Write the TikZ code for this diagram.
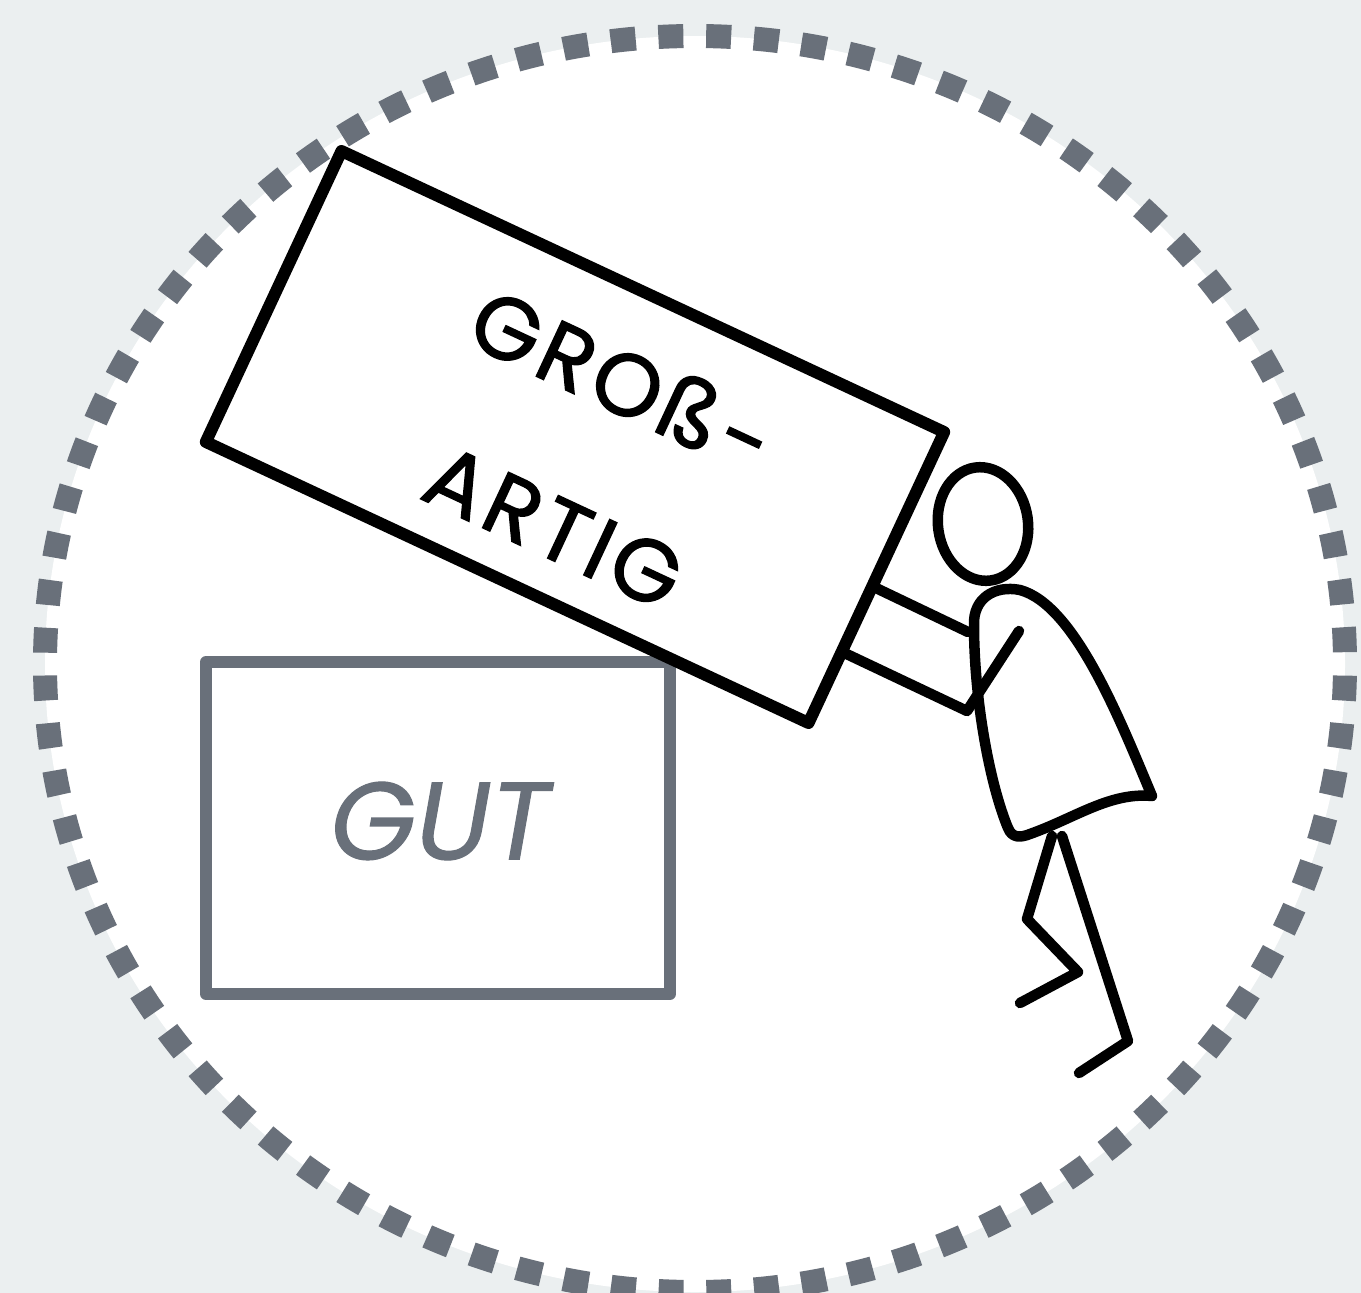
\documentclass[tikz,border=0pt]{standalone}
\usepackage{fontspec}
\setmainfont{Poppins}
\usetikzlibrary{calc}
\definecolor{bgpaper}{RGB}{235,239,240}
\definecolor{slate}{RGB}{105,112,122}
\tikzset{
  ring/.style={draw=slate, line width=24pt, dash pattern=on 25pt off 22.8pt, dash phase=36pt},
  goodbox/.style={draw=slate, line width=12pt, line join=round},
  greatbox/.style={draw=black, line width=12pt, line join=round, inner sep=0pt, outer sep=0pt,
                   minimum width=665pt, minimum height=321pt, rotate=-25},
  stroke/.style={draw=black, line width=10.5pt, line cap=round, line join=round},
  greattext/.style={text=black, inner sep=0pt, rotate=-25, align=center,
                    font=\fontsize{88}{160}\selectfont\addfontfeatures{FakeBold=1.5, LetterSpace=6}},
  goodtext/.style={text=slate, inner sep=0pt,
                   font=\fontsize{110}{120}\selectfont\itshape\addfontfeatures{FakeBold=1}}
}
\begin{document}
\begin{tikzpicture}[x=1pt, y=-1pt]
  % paper and framing ring
  \fill[bgpaper] (0,0) rectangle (1361,1293);
  \useasboundingbox (0,0) rectangle (1361,1293);
  \coordinate (hub) at (695,664);
  \fill[white] (hub) ellipse [x radius=650pt, y radius=628pt];
  \draw[ring] (hub) ellipse [x radius=650pt, y radius=628pt];

  % the plain box
  \node[goodbox, inner sep=0pt, outer sep=0pt, minimum width=464pt, minimum height=332pt] (good) at (438,828) {};
  \node[goodtext] (goodlabel) at (440,821) {GUT};

  % the tilted big box
  \node[greatbox] (great) at (575,437) {};
  \node[greattext] (greatlabel) at (589,452) {GROß-\\ARTIG};

  % stick figure pushing the big box
  \draw[stroke, rotate around={8:(983,524)}] (983,524) ellipse [x radius=45pt, y radius=57pt];
  \draw[stroke] (1020,590)
     .. controls (995,585) and (973,598) .. (974,625)
     .. controls (974,700) and (990,785) .. (1008,828)
     .. controls (1012,838) and (1020,838) .. (1030,834)
     .. controls (1075,818) and (1110,792) .. (1152,796)
     .. controls (1120,720) and (1075,605) .. (1020,590) -- cycle;
  \coordinate (shoulder) at (968,632);
  \coordinate (elbow) at (967,711);
  \coordinate (hand) at (1019,631);
  \draw[stroke] ($(great.north east)!0.53!(great.south east)$) -- (shoulder);
  \draw[stroke] ($(great.north east)!0.755!(great.south east)$) -- (elbow) -- (hand);
  \coordinate (hipL) at (1052,836);
  \coordinate (kneeL) at (1027,919);
  \coordinate (heelL) at (1078,972);
  \coordinate (toeL) at (1020,1003);
  \coordinate (hipR) at (1062,836);
  \coordinate (heelR) at (1128,1041);
  \coordinate (toeR) at (1079,1073);
  \draw[stroke] (hipL) -- (kneeL) -- (heelL) -- (toeL);
  \draw[stroke] (hipR) -- (heelR) -- (toeR);
\end{tikzpicture}
\end{document}
